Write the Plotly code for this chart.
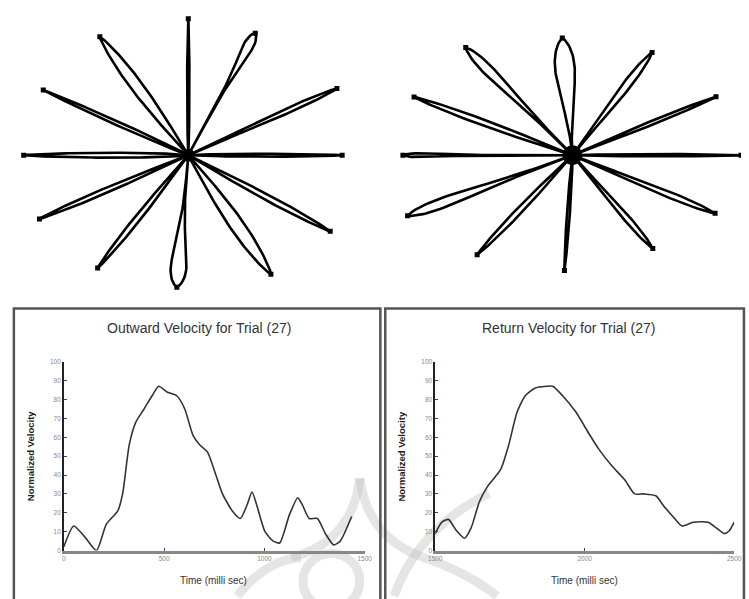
import numpy as np
import plotly.graph_objects as go

W, H = 749, 599

# ---------------- data ----------------
# Outward velocity (trial 27)
out_time = [0, 49, 106, 163, 212, 269, 293, 326, 359, 400, 440, 473, 514, 563, 603, 644,
            677, 717, 758, 791, 840, 880, 913, 938, 962, 1003, 1044, 1076, 1125, 1166,
            1190, 1223, 1264, 1304, 1345, 1378, 1435]
out_vel = [2, 13, 7, 0, 14, 21, 30, 56, 68, 75, 82, 87, 84, 82, 75, 61,
           56, 52, 40, 30, 21, 17, 24, 31, 24, 10, 5, 4, 19, 28,
           24, 17, 17, 9, 3, 5, 18]

# Return velocity (trial 27)
ret_time = [1500, 1522, 1544, 1571, 1598, 1620, 1648, 1675, 1719, 1746, 1773, 1801, 1833,
            1872, 1893, 1926, 1970, 2014, 2046, 2090, 2134, 2167, 2199, 2238, 2265, 2298,
            2325, 2363, 2413, 2440, 2467, 2484, 2500]
ret_vel = [9, 15, 16.5, 10.5, 6.5, 12, 26, 34, 43, 56, 73, 82, 86,
           87, 87, 82, 73.5, 62, 54, 45, 37.5, 30, 30, 29, 23.5, 17.5,
           13, 15, 15, 12, 9, 10.5, 15]

y_ticks = [0, 10, 20, 30, 40, 50, 60, 70, 80, 90, 100]
out_x_ticks = [0, 500, 1000, 1500]
ret_x_ticks = [1500, 2000, 2500]

# Star (center-out reaching) trajectories: direction (deg), reach, loop half-width, widest point
star_left_angle = [90, 61, 24, 0, -28, -55, -95, -129, -157, 180, 156, 127]
star_left_reach = [138, 141, 166, 157, 164, 147, 134, 147, 165, 168, 162, 150]
star_left_width = [1.2, 5, 2.5, 1.5, 3, 7, 8, 3, 2.5, 2.5, 2, 6]
star_left_peak = [0.5, 0.9, 0.7, 0.5, 0.6, 0.6, 0.85, 0.6, 0.6, 0.45, 0.5, 0.6]

star_right_angle = [95, 52, 22, 0, -22, -49, -94, -134, -160, 180, 160, 135]
star_right_reach = [119, 132, 158, 172, 157, 125, 117, 140, 179, 173, 172, 154]
star_right_width = [10, 4, 2, 1.2, 3, 3, 1.5, 3, 5, 2, 3, 5]
star_right_peak = [0.75, 0.7, 0.6, 0.5, 0.7, 0.7, 0.5, 0.6, 0.8, 0.9, 0.6, 0.8]

titles = ["Outward Velocity for Trial (27)", "Return Velocity for Trial (27)"]
y_title = "Normalized Velocity"
x_title = "Time (milli sec)"


def px_x(x):
    return x / W


def px_y(y):
    return 1 - y / H


def loop(angle, reach, width, peak):
    t = np.linspace(0, 1, 60)
    p = np.log(0.5) / np.log(peak)
    f = width * np.sin(np.pi * t ** p) ** 0.7
    a = np.radians(angle)
    ux, uy = np.cos(a), np.sin(a)
    nx, ny = -uy, ux
    s = reach * t
    xs = np.concatenate([s * ux + f * nx, (s * ux - f * nx)[::-1]])
    ys = np.concatenate([s * uy + f * ny, (s * uy - f * ny)[::-1]])
    return xs, ys


fig = go.Figure()

# ---------------- star plots ----------------
star_sets = [
    (star_left_angle, star_left_reach, star_left_width, star_left_peak, "x3", "y3", 13),
    (star_right_angle, star_right_reach, star_right_width, star_right_peak, "x4", "y4", 20),
]
for ang, rch, wid, pk, xa, ya, blob in star_sets:
    for a, r, w, p in zip(ang, rch, wid, pk):
        xs, ys = loop(a, r, w, p)
        fig.add_trace(go.Scatter(x=xs, y=ys, mode="lines", fill="toself", fillcolor="white",
                                 line=dict(color="black", width=2.6), xaxis=xa, yaxis=ya,
                                 hoverinfo="skip", showlegend=False))
        rad = np.radians(a)
        fig.add_trace(go.Scatter(x=[r * np.cos(rad)], y=[r * np.sin(rad)], mode="markers",
                                 marker=dict(color="black", size=5, symbol="square"),
                                 xaxis=xa, yaxis=ya, hoverinfo="skip", showlegend=False))
    fig.add_trace(go.Scatter(x=[0], y=[0], mode="markers",
                             marker=dict(color="black", size=blob),
                             xaxis=xa, yaxis=ya, hoverinfo="skip", showlegend=False))

# ---------------- velocity plots ----------------
fig.add_trace(go.Scatter(x=out_time, y=out_vel, mode="lines", line=dict(color="#333", width=1.6, shape="spline", smoothing=0.6),
                         xaxis="x", yaxis="y", showlegend=False))
fig.add_trace(go.Scatter(x=ret_time, y=ret_vel, mode="lines", line=dict(color="#333", width=1.6, shape="spline", smoothing=0.6),
                         xaxis="x2", yaxis="y2", showlegend=False))

tickfont = dict(family="Liberation Sans, Arial", size=6.5, color="#888")
common_y = dict(range=[0, 100], tickvals=y_ticks, ticks="inside", ticklen=3, tickcolor="#444",
                showline=True, linecolor="#222", linewidth=1.5, showgrid=False, zeroline=False,
                tickfont=tickfont, domain=[px_y(553), px_y(362)], fixedrange=True)
common_x = dict(ticks="inside", ticklen=3, tickcolor="#444", showline=True, linecolor="#888",
                linewidth=2.5, showgrid=False, zeroline=False, tickfont=tickfont, fixedrange=True)

fig.update_layout(
    width=W, height=H, margin=dict(l=0, r=0, t=0, b=0),
    paper_bgcolor="white", plot_bgcolor="rgba(0,0,0,0)",
    xaxis=dict(common_x, range=[0, 1500], tickvals=out_x_ticks, domain=[px_x(58), px_x(365)], anchor="y"),
    yaxis=dict(common_y, anchor="x"),
    xaxis2=dict(common_x, range=[1500, 2500], tickvals=ret_x_ticks, domain=[px_x(437), px_x(742)], anchor="y2"),
    yaxis2=dict(common_y, anchor="x2"),
    xaxis3=dict(range=[-185, 189], domain=[0, px_x(374)], visible=False, fixedrange=True, anchor="y3"),
    yaxis3=dict(range=[-137, 153], domain=[px_y(290), 1], visible=False, fixedrange=True, anchor="x3"),
    xaxis4=dict(range=[-203, 172], domain=[px_x(374), 1], visible=False, fixedrange=True, anchor="y4"),
    yaxis4=dict(range=[-137, 153], domain=[px_y(290), 1], visible=False, fixedrange=True, anchor="x4"),
)

# ---------------- frames ----------------
shapes = []
for x0, x1 in [(7, 381), (386, 752)]:
    shapes.append(dict(type="rect", xref="paper", yref="paper", x0=px_x(x0), x1=px_x(x1),
                       y0=px_y(605), y1=px_y(308), line=dict(color="#555", width=2.5),
                       fillcolor="rgba(0,0,0,0)", layer="above"))

wm_col = "rgba(190,190,190,0.4)"
wm_paths = [
    [("M", 360, 480), ("Q", 352, 545, 290, 560)],
    [("M", 360, 480), ("Q", 368, 540, 425, 560)],
    [("M", 235, 599), ("Q", 265, 562, 300, 560)],
    [("M", 395, 599), ("Q", 420, 530, 492, 495)],
    [("M", 425, 560), ("Q", 470, 575, 500, 599)],
]
for segs in wm_paths:
    d = ""
    for s in segs:
        if s[0] == "M":
            d += f"M {px_x(s[1])},{px_y(s[2])} "
        else:
            d += f"Q {px_x(s[1])},{px_y(s[2])} {px_x(s[3])},{px_y(s[4])} "
    shapes.append(dict(type="path", path=d, xref="paper", yref="paper",
                       line=dict(color=wm_col, width=9), layer="below"))
shapes.append(dict(type="circle", xref="paper", yref="paper", x0=px_x(302), x1=px_x(360),
                   y0=px_y(612), y1=px_y(556), line=dict(color=wm_col, width=9), layer="below"))
fig.update_layout(shapes=shapes)

# ---------------- text ----------------
ann = []
for cx, t in [(196, titles[0]), (573, titles[1])]:
    ann.append(dict(text=t, x=px_x(cx), y=px_y(328), xref="paper", yref="paper", showarrow=False,
                    font=dict(family="Liberation Sans, Arial", size=14, color="#333"),
                    xanchor="center", yanchor="middle"))
for cx in [24, 403]:
    ann.append(dict(text=f"<b>{y_title}</b>", x=px_x(cx), y=px_y(458), xref="paper", yref="paper",
                    showarrow=False, textangle=-90,
                    font=dict(family="Liberation Sans, Arial", size=9.5, color="#222"),
                    xanchor="center", yanchor="middle"))
for cx in [211, 589]:
    ann.append(dict(text=x_title, x=px_x(cx), y=px_y(583), xref="paper", yref="paper", showarrow=False,
                    font=dict(family="Liberation Sans, Arial", size=10, color="#333"),
                    xanchor="center", yanchor="middle"))
fig.update_layout(annotations=ann)

fig.write_html("out.html", config={"displayModeBar": False},
               post_script="document.body.style.margin='0';document.body.style.overflow='hidden';")
